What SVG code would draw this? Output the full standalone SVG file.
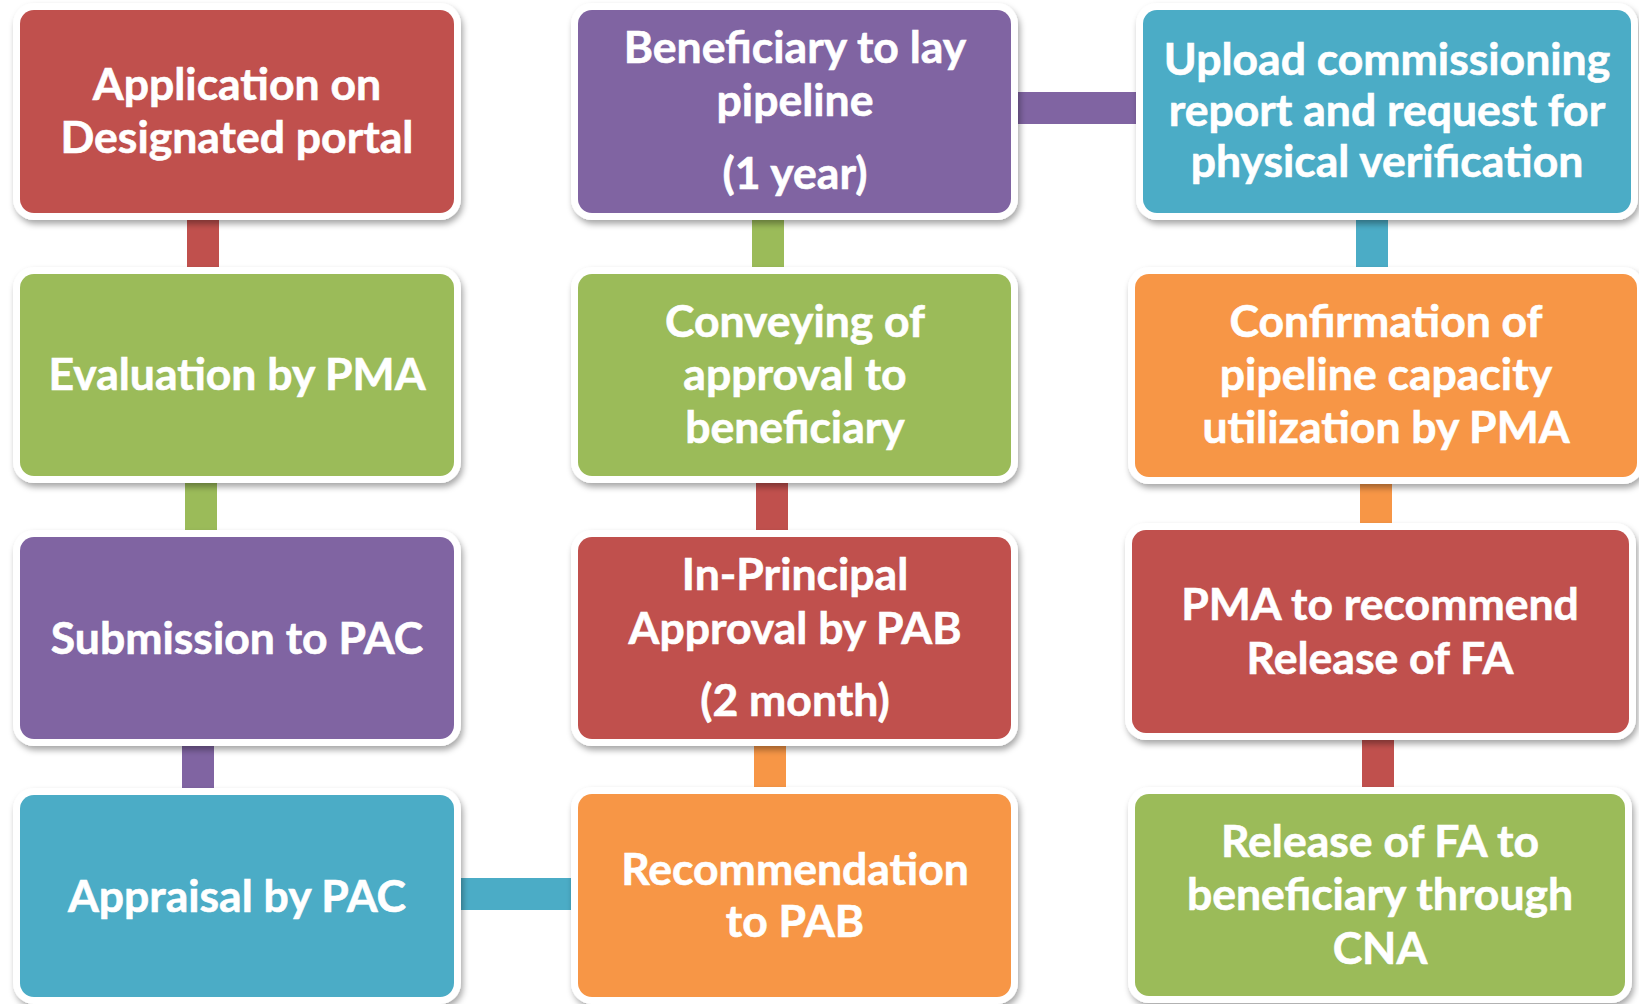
<svg xmlns="http://www.w3.org/2000/svg" width="1639" height="1004" viewBox="0 0 1639 1004">
<defs>
<filter id="sh" x="-10%" y="-10%" width="120%" height="125%">
<feDropShadow dx="2" dy="4" stdDeviation="3" flood-color="#000" flood-opacity="0.35"/>
</filter>
</defs>
<style>
.frame{fill:#fff;filter:url(#sh)}
.red{fill:#C0504D}.green{fill:#9BBB59}.purple{fill:#8064A2}.blue{fill:#4BACC6}.orange{fill:#F79646}
text{font-family:Lato,"Liberation Sans",sans-serif;font-weight:bold;font-size:44.5px;fill:#fff;stroke:#fff;stroke-width:0.6px;text-anchor:middle}
</style>
<rect width="1639" height="1004" fill="#fff"/>
<g id="connectors">
<rect class="red" x="187" y="213" width="32" height="61"/>
<rect class="green" x="185" y="476" width="32" height="61"/>
<rect class="purple" x="182" y="739" width="32" height="56"/>
<rect class="blue" x="454" y="878" width="124" height="32"/>
<rect class="orange" x="754" y="739" width="32" height="56"/>
<rect class="red" x="756" y="476" width="32" height="61"/>
<rect class="green" x="752" y="213" width="32" height="61"/>
<rect class="purple" x="1011" y="92" width="132" height="32"/>
<rect class="blue" x="1356" y="213" width="32" height="61"/>
<rect class="orange" x="1360" y="477" width="32" height="53"/>
<rect class="red" x="1362" y="733" width="32" height="61"/>
</g>
<g id="n1">
<rect class="frame" x="13" y="3" width="448" height="217" rx="21"/>
<rect class="red" x="20" y="10" width="434" height="203" rx="14"/>
<text x="237" y="100">Application on</text>
<text x="237" y="153">Designated portal</text>
</g>
<g id="n2">
<rect class="frame" x="13" y="267" width="448" height="216" rx="21"/>
<rect class="green" x="20" y="274" width="434" height="202" rx="14"/>
<text x="237" y="390">Evaluation by PMA</text>
</g>
<g id="n3">
<rect class="frame" x="13" y="530" width="448" height="216" rx="21"/>
<rect class="purple" x="20" y="537" width="434" height="202" rx="14"/>
<text x="237" y="654">Submission to PAC</text>
</g>
<g id="n4">
<rect class="frame" x="13" y="788" width="448" height="216" rx="21"/>
<rect class="blue" x="20" y="795" width="434" height="202" rx="14"/>
<text x="237" y="912">Appraisal by PAC</text>
</g>
<g id="n5">
<rect class="frame" x="571" y="3" width="447" height="217" rx="21"/>
<rect class="purple" x="578" y="10" width="433" height="203" rx="14"/>
<text x="795" y="63">Beneficiary to lay</text>
<text x="795" y="116">pipeline</text>
<text x="795" y="189">(1 year)</text>
</g>
<g id="n6">
<rect class="frame" x="571" y="267" width="447" height="216" rx="21"/>
<rect class="green" x="578" y="274" width="433" height="202" rx="14"/>
<text x="795" y="337">Conveying of</text>
<text x="795" y="390">approval to</text>
<text x="795" y="443">beneficiary</text>
</g>
<g id="n7">
<rect class="frame" x="571" y="530" width="447" height="216" rx="21"/>
<rect class="red" x="578" y="537" width="433" height="202" rx="14"/>
<text x="795" y="590">In-Principal</text>
<text x="795" y="644">Approval by PAB</text>
<text x="795" y="716">(2 month)</text>
</g>
<g id="n8">
<rect class="frame" x="571" y="787" width="447" height="217" rx="21"/>
<rect class="orange" x="578" y="794" width="433" height="203" rx="14"/>
<text x="795" y="885">Recommendation</text>
<text x="795" y="937">to PAB</text>
</g>
<g id="n9">
<rect class="frame" x="1136" y="3" width="502" height="217" rx="21"/>
<rect class="blue" x="1143" y="10" width="488" height="203" rx="14"/>
<text x="1387" y="75">Upload commissioning</text>
<text x="1387" y="126">report and request for</text>
<text x="1387" y="177">physical verification</text>
</g>
<g id="n10">
<rect class="frame" x="1128" y="267" width="516" height="217" rx="21"/>
<rect class="orange" x="1135" y="274" width="502" height="203" rx="14"/>
<text x="1386" y="337">Confirmation of</text>
<text x="1386" y="390">pipeline capacity</text>
<text x="1386" y="443">utilization by PMA</text>
</g>
<g id="n11">
<rect class="frame" x="1125" y="523" width="511" height="217" rx="21"/>
<rect class="red" x="1132" y="530" width="497" height="203" rx="14"/>
<text x="1380" y="620">PMA to recommend</text>
<text x="1380" y="674">Release of FA</text>
</g>
<g id="n12">
<rect class="frame" x="1128" y="787" width="504" height="216" rx="21"/>
<rect class="green" x="1135" y="794" width="490" height="202" rx="14"/>
<text x="1380" y="857">Release of FA to</text>
<text x="1380" y="910">beneficiary through</text>
<text x="1380" y="964">CNA</text>
</g>
</svg>
